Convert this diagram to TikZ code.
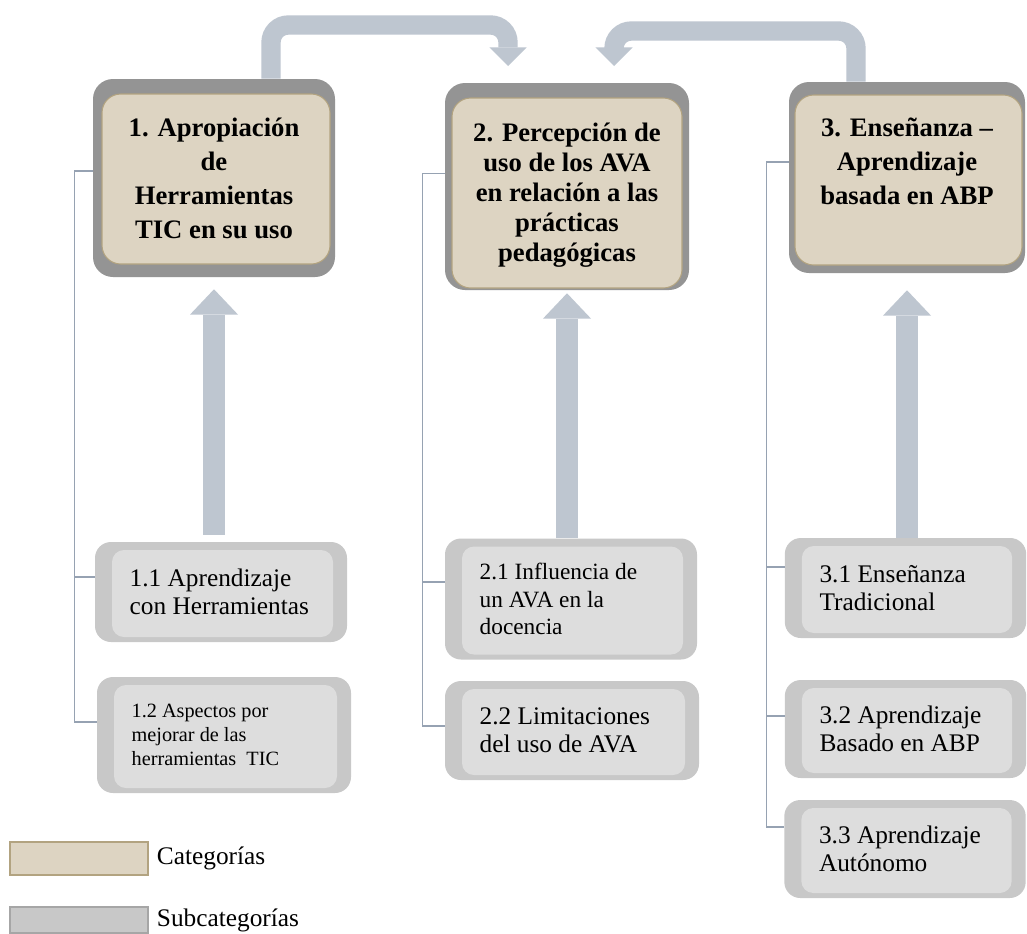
\documentclass[tikz,border=0pt]{standalone}
\usepackage{fontspec}
\setmainfont{Liberation Serif}
\usetikzlibrary{positioning,arrows.meta,calc}
\definecolor{catframe}{RGB}{148,148,148}
\definecolor{catfill}{RGB}{221,212,194}
\definecolor{catline}{RGB}{178,163,128}
\definecolor{subframe}{RGB}{200,200,200}
\definecolor{subfill}{RGB}{221,221,221}
\definecolor{arrowcol}{RGB}{190,198,208}
\definecolor{linkcol}{RGB}{150,162,178}
\tikzset{
    x=0.75pt,
    y=-0.75pt,
    cat/.style n args={4}{
        shape=rectangle,
        rounded corners=15pt,
        fill=catframe,
        inner sep=0pt,
        align=flush center,
        font=\bfseries\fontsize{20}{25.5}\selectfont,
        path picture={
            \filldraw[fill=catfill, draw=catline, line width=0.8pt, rounded corners=14pt]
                ([xshift=#1, yshift=-#2]path picture bounding box.north west)
                rectangle ([xshift=-#3, yshift=#4]path picture bounding box.south east);
        }
    },
    sub/.style = {
        shape=rectangle,
        rounded corners=12pt,
        fill=subframe,
        inner xsep=26pt,
        inner ysep=0pt,
        align=flush left,
        font=\fontsize{19}{21}\selectfont,
        path picture={
            \fill[subfill, rounded corners=9pt]
                ([xshift=12.75pt, yshift=-6pt]path picture bounding box.north west)
                rectangle ([xshift=-10.5pt, yshift=3.75pt]path picture bounding box.south east);
        }
    },
    uparrow/.style = {
        draw=arrowcol,
        line width=17pt,
        -{Triangle[width=36pt, length=19pt, line width=0pt]}
    },
    bendarrow/.style = {
        draw=arrowcol,
        line width=14.5pt,
        rounded corners=13pt,
        -{Triangle[width=28pt, length=14pt, line width=0pt]}
    },
    link/.style = {
        draw=linkcol,
        line width=1pt
    },
    legcat/.style = {
        draw=catline,
        fill=catfill,
        line width=1pt,
        minimum width=103.5pt,
        minimum height=24.75pt
    },
    legsub/.style = {
        draw=gray!70,
        fill=subframe,
        line width=1pt,
        minimum width=103.5pt,
        minimum height=19.5pt
    },
    legtext/.style = {
        inner sep=0pt,
        font=\fontsize{19}{21}\selectfont
    }
}

\begin{document}
\begin{tikzpicture}
    \useasboundingbox[fill=white] (0,0) rectangle (1027,933);

    % categories
    \node[cat={6.75pt}{11.25pt}{3.75pt}{9.75pt}, minimum width=181.5pt, minimum height=148.5pt] (c1) at (214,178)
        {1. Apropiación\\ de\\ Herramientas\\ TIC en su uso};
    \node[cat={5.25pt}{11.25pt}{5.25pt}{1.5pt}, minimum width=183pt, minimum height=155.25pt,
          font=\bfseries\fontsize{20}{22.5}\selectfont] (c2) at (567,186.5)
        {\strut\\[-12pt] 2. Percepción de\\ uso de los AVA\\ en relación a las\\ prácticas\\ pedagógicas};
    \node[cat={4.5pt}{9.75pt}{2.25pt}{6pt}, minimum width=177pt, minimum height=143.25pt] (c3) at (907,177.5)
        {3. Enseñanza –\\ Aprendizaje\\ basada en ABP\\[-9pt] \strut};

    % subcategories
    \node[sub, text width=137pt, minimum height=75pt] (s11) at (221,592)
        {1.1 Aprendizaje\\ con Herramientas};
    \node[sub, text width=138.5pt, minimum height=87pt, font=\fontsize{15.2}{18}\selectfont] (s12) at (224,735)
        {1.2 Aspectos por\\ mejorar de las\\ herramientas\ \ TIC};
    \node[sub, text width=137pt, minimum height=90.75pt, font=\fontsize{17.5}{20.5}\selectfont] (s21) at (571,599)
        {2.1 Influencia de\\ un AVA\ en la\\ docencia};
    \node[sub, text width=138.5pt, minimum height=74.25pt] (s22) at (572,730.5)
        {2.2 Limitaciones\\ del uso de AVA};
    \node[sub, text width=129pt, minimum height=75pt] (s31) at (905.5,588)
        {3.1 Enseñanza\\ Tradicional};
    \node[sub, text width=129pt, minimum height=73.5pt] (s32) at (905.5,729)
        {3.2 Aprendizaje\\ Basado en ABP};
    \node[sub, text width=129pt, minimum height=73.5pt] (s33) at (905,849)
        {3.3 Aprendizaje\\ Autónomo};

    % arrows between categories
    \coordinate (b1) at (271,25);
    \coordinate (e1) at (508,66);
    \coordinate (b2) at (856,31);
    \coordinate (e2) at (614,66);
    \draw[bendarrow] (c1.north -| b1) -- (b1) -| (e1);
    \draw[bendarrow] (c3.north -| b2) -- (b2) -| (e2);

    % arrows up to categories
    \draw[uparrow, shorten <=5.25pt, shorten >=9pt] (s11.north -| c1.south) -- (c1.south);
    \draw[uparrow, shorten >=2.25pt] (s21.north -| c2.south) -- (c2.south);
    \draw[uparrow, shorten >=12.75pt] (s31.north -| c3.south) -- (c3.south);

    % tree lines
    \draw[link] ([yshift=5.25pt]c1.west) -- ++(-18,0) |- ([yshift=9.75pt]s12.west);
    \draw[link] ([yshift=11.25pt]s11.west) -- ++(-20,0);
    \draw[link] ([yshift=10pt]c2.west) -- ++(-22,0) |- ([yshift=3.4pt]s22.west);
    \draw[link] ([yshift=12.75pt]s21.west) -- ++(-22,0);
    \draw[link] ([yshift=11.6pt]c3.west) -- ++(-22,0) |- ([yshift=16.5pt]s33.west);
    \draw[link] ([yshift=15.75pt]s31.west) -- ++(-18,0);
    \draw[link] ([yshift=9.75pt]s32.west) -- ++(-18,0);

    % legend
    \node[legcat] (lcat) at (79,858.5) {};
    \node[legtext, right=6pt of lcat] (tcat) {Categorías};
    \node[legsub] (lsub) at (79,920) {};
    \node[legtext, right=6pt of lsub] (tsub) {Subcategorías};
\end{tikzpicture}
\end{document}
